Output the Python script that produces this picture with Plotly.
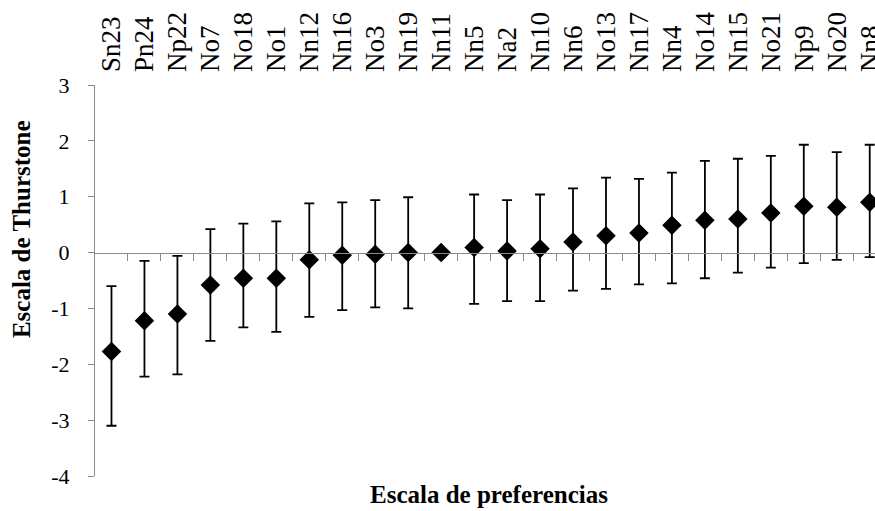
import plotly.graph_objects as go

categories = ["Sn23", "Pn24", "Np22", "No7", "No18", "No1", "Nn12", "Nn16", "No3", "Nn19",
              "Nn11", "Nn5", "Na2", "Nn10", "Nn6", "No13", "Nn17", "Nn4", "No14", "Nn15",
              "No21", "Np9", "No20", "Nn8"]
means = [-1.77, -1.22, -1.10, -0.58, -0.46, -0.46, -0.13, -0.05, -0.03, 0.00,
         0.00, 0.09, 0.03, 0.07, 0.19, 0.30, 0.35, 0.49, 0.58, 0.60,
         0.71, 0.83, 0.81, 0.90]
upper = [-0.60, -0.15, -0.06, 0.42, 0.52, 0.56, 0.88, 0.90, 0.94, 0.99,
         0.00, 1.04, 0.94, 1.04, 1.15, 1.34, 1.32, 1.43, 1.64, 1.68,
         1.73, 1.93, 1.80, 1.93]
lower = [-3.10, -2.22, -2.18, -1.58, -1.34, -1.42, -1.15, -1.03, -0.98, -1.00,
         0.00, -0.92, -0.87, -0.87, -0.68, -0.65, -0.57, -0.55, -0.46, -0.36,
         -0.27, -0.19, -0.13, -0.08]
y_ticks = [-4, -3, -2, -1, 0, 1, 2, 3]
y_ticktext = ["-4", "-3", "-2", "-1", "0", "1", "2", "3"]

err_plus = [u - m for u, m in zip(upper, means)]
err_minus = [m - l for m, l in zip(means, lower)]
n = len(categories)
xr = [-0.5, 23.16]
serif = "Liberation Serif"

fig = go.Figure()
fig.add_trace(go.Scatter(
    x=categories, y=means, mode="markers",
    marker=dict(symbol="diamond", size=15, color="black"),
    error_y=dict(type="data", symmetric=False, array=err_plus, arrayminus=err_minus,
                 color="black", thickness=1.8, width=5),
    cliponaxis=False, showlegend=False,
))

fig.update_layout(
    width=875, height=511,
    margin=dict(l=95, r=0, t=85, b=35, autoexpand=False),
    plot_bgcolor="white", paper_bgcolor="white",
    font=dict(family=serif, color="black"),
    xaxis=dict(type="category", categoryorder="array", categoryarray=categories,
               tickmode="array", tickvals=categories, ticktext=categories,
               range=xr, side="top", tickangle=-90, showline=False, showgrid=False,
               zeroline=False, ticks="", tickfont=dict(size=27, family=serif),
               ticklabelstandoff=12, automargin=False),
    xaxis2=dict(overlaying="x", anchor="free", position=4 / 7, range=xr,
                showline=True, linecolor="#8a8a8a", linewidth=1.2, showgrid=False,
                zeroline=False, ticks="outside", ticklen=7, tickcolor="#8a8a8a",
                tickwidth=1, tickvals=[i + 0.5 for i in range(n - 1)],
                showticklabels=False, automargin=False),
    yaxis=dict(range=[-4, 3], tickvals=y_ticks, ticktext=y_ticktext, showline=True,
               linecolor="#8a8a8a", linewidth=1.2, showgrid=False, zeroline=False,
               ticks="outside", ticklen=6, tickcolor="#8a8a8a",
               tickfont=dict(size=22, family=serif), ticklabelstandoff=14,
               automargin=False),
    annotations=[
        dict(text="<b>Escala de Thurstone</b>", xref="paper", yref="paper",
             x=(21 - 95) / 780, y=(476.3 - 229) / 391.6, textangle=-90,
             showarrow=False, font=dict(size=25, family=serif),
             xanchor="center", yanchor="middle"),
        dict(text="<b>Escala de preferencias</b>", xref="paper", yref="paper",
             x=(489 - 95) / 780, y=(476.3 - 495) / 391.6, showarrow=False,
             font=dict(size=25, family=serif), xanchor="center", yanchor="middle"),
    ],
)
fig.add_trace(go.Scatter(x=[0], y=[0], xaxis="x2", mode="markers",
                         marker=dict(opacity=0), showlegend=False, hoverinfo="skip"))

fig.write_html("out.html", config={"displayModeBar": False},
               post_script="document.body.style.margin='0px';"
                           "document.body.style.overflow='hidden';")
